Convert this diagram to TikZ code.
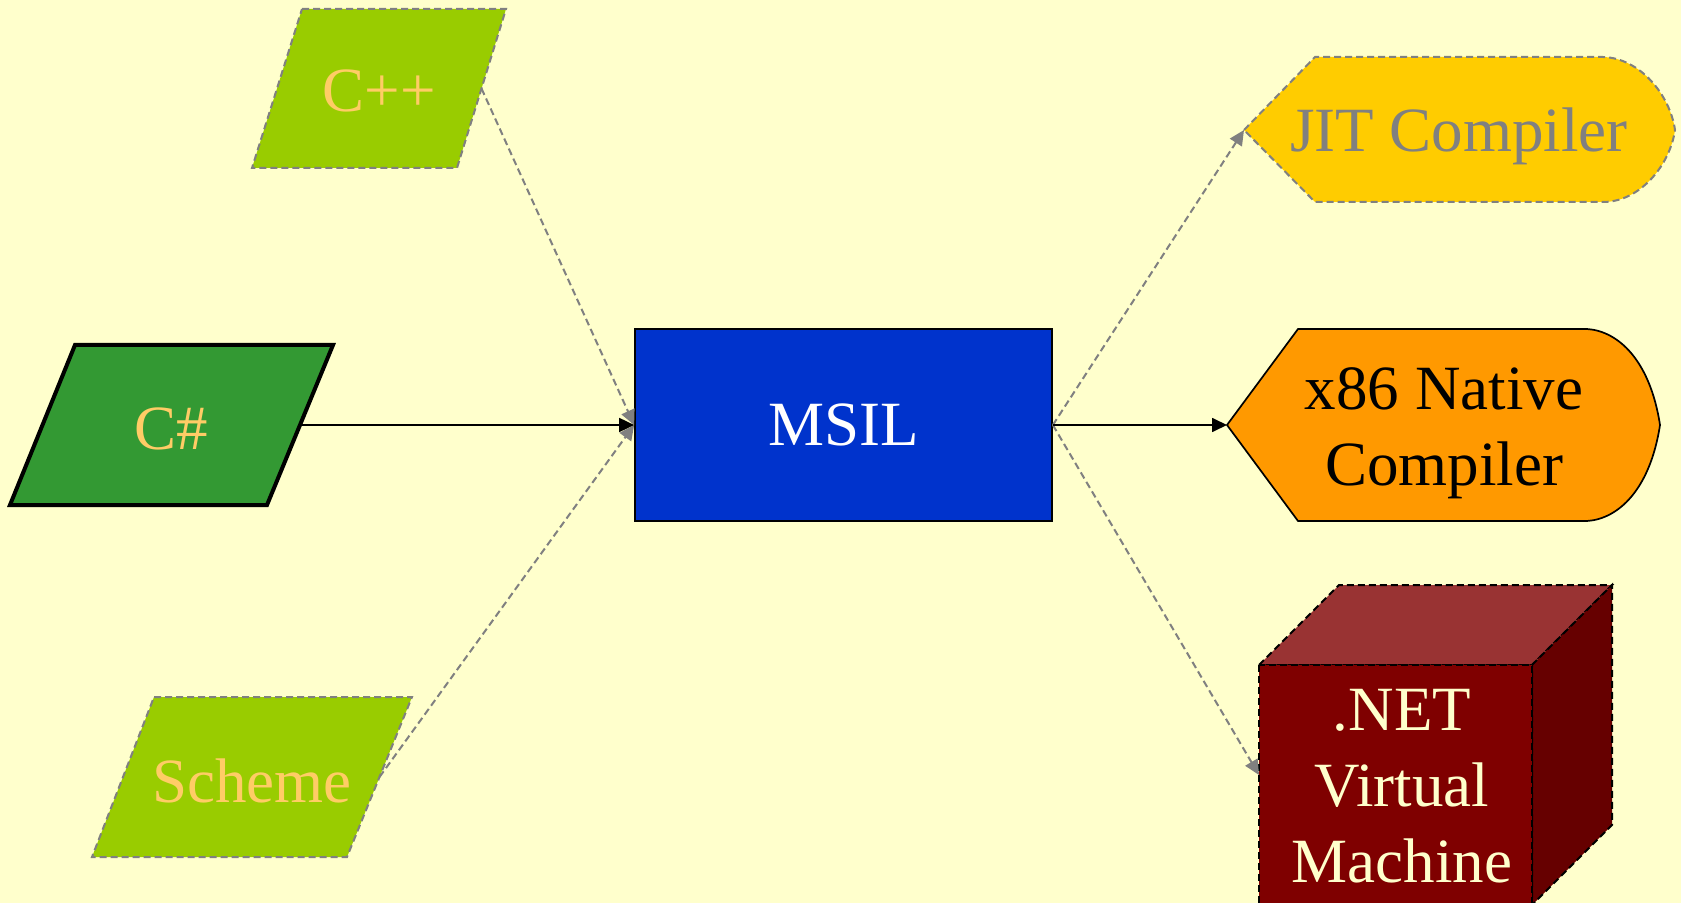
\documentclass[tikz,border=0pt]{standalone}
\usepackage{fontspec}
\setmainfont{Liberation Serif}
\usetikzlibrary{arrows.meta}
\definecolor{bg}{HTML}{FFFFCC}
\definecolor{lime}{HTML}{99CC00}
\definecolor{csgreen}{HTML}{339933}
\definecolor{txtor}{HTML}{FFCC66}
\definecolor{msilblue}{HTML}{0033CC}
\definecolor{jitfill}{HTML}{FFCC00}
\definecolor{x86fill}{HTML}{FF9900}
\definecolor{vmfront}{HTML}{7F0000}
\definecolor{vmtop}{HTML}{993333}
\definecolor{vmside}{HTML}{660000}
\definecolor{edgegray}{HTML}{808080}
\tikzset{
  lbl/.style={font=\fontsize{31.5}{38}\selectfont, inner sep=0pt, anchor=base, align=center},
  dashline/.style={dash pattern=on 3.5pt off 2pt, line width=1pt},
  lang/.style={fill=lime, draw=edgegray, dashline},
  cubeface/.style={draw=black, dashline},
  flow/.style={line width=0.85pt, -{Triangle[length=7.5pt,width=7pt]}},
  dflow/.style={flow, draw=edgegray, line width=1pt, dash pattern=on 3.5pt off 2pt},
}
\begin{document}
\begin{tikzpicture}[x=0.5pt,y=-0.5pt]
\useasboundingbox[fill=bg] (0,0) rectangle (1681,903);
\clip (0,0) rectangle (1681,903);

% C++
\draw[lang] (302,9) -- (506,9) -- (457,168) -- (252,168) -- cycle;
\coordinate (cppE) at (481.5,88.5);
\node[lbl, text=txtor] (cpp) at (379,112) {C++};

% C#
\draw[fill=csgreen, draw=black, line width=2pt] (75,345) -- (333,345) -- (267,505) -- (10,505) -- cycle;
\coordinate (csE) at (300,425);
\node[lbl, text=txtor] (cs) at (171,450) {C\#};

% Scheme
\draw[lang] (154,697) -- (412,697) -- (347,857) -- (92,857) -- cycle;
\coordinate (scmE) at (379.5,777);
\node[lbl, text=txtor] (scm) at (252,802) {Scheme};

% MSIL
\node[draw=black, fill=msilblue, line width=0.85pt, minimum width=208.5pt, minimum height=96pt,
      inner sep=0pt, text=white, font=\fontsize{31.5}{38}\selectfont] (msil) at (843.5,425) {MSIL};

% JIT Compiler
\draw[fill=jitfill, draw=edgegray, dashline] (1244,130) -- (1315,57) -- (1603,57)
  .. controls (1640,58) and (1670,95) .. (1675,130)
  .. controls (1670,165) and (1640,202) .. (1603,202) -- (1315,202) -- cycle;
\coordinate (jitW) at (1244,130);
\node[lbl, text=edgegray] (jit) at (1459,152) {JIT Compiler};

% x86 Native Compiler
\draw[fill=x86fill, draw=black, line width=0.85pt] (1227,425) -- (1298,329) -- (1587,329)
  .. controls (1618,331) and (1650,360) .. (1660,425)
  .. controls (1650,490) and (1618,519) .. (1587,521) -- (1298,521) -- cycle;
\coordinate (x86W) at (1227,425);
\node[lbl, text=black] (x86) at (1444,486) {x86 Native\\Compiler};

% .NET Virtual Machine (cube)
\draw[cubeface, fill=vmtop] (1259,665) -- (1339,585) -- (1612,585) -- (1532,665) -- cycle;
\draw[cubeface, fill=vmside] (1532,665) -- (1612,585) -- (1612,825) -- (1532,905) -- cycle;
\draw[cubeface, fill=vmfront] (1259,665) rectangle (1532,912);
\coordinate (vmW) at (1259,775);
\node[lbl, text=bg] (vm) at (1402,882) {.NET\\Virtual\\Machine};

% connectors
\draw[dflow] (cppE) -- (msil.west);
\draw[dflow] (scmE) -- (msil.west);
\draw[flow] (csE) -- (msil.west);
\draw[dflow] (msil.east) -- (jitW);
\draw[dflow] (msil.east) -- (vmW);
\draw[flow] (msil.east) -- (x86W);
\end{tikzpicture}
\end{document}
